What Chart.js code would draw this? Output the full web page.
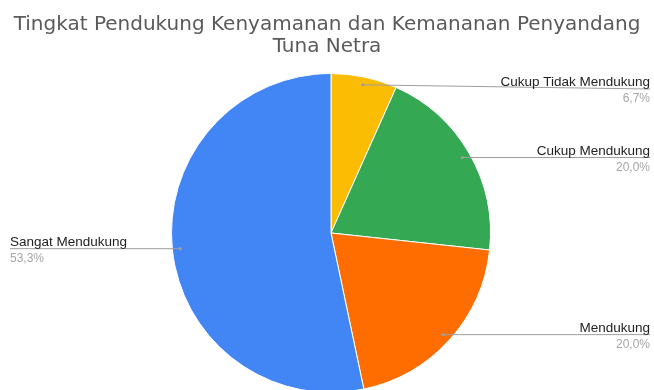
<!DOCTYPE html>
<html>
<head>
<meta charset="utf-8">
<script src="https://cdn.jsdelivr.net/npm/chart.js@4.4.0/dist/chart.umd.min.js"></script>
<style>
  html, body { margin: 0; padding: 0; background: #fff; }
  #wrap { width: 654px; height: 390px; overflow: hidden; position: relative; }
</style>
</head>
<body>
<div id="wrap"><canvas id="pieChart" width="654" height="396"></canvas></div>
<script>
// Respondent answers, shares in percent
const categories = ['Cukup Tidak Mendukung', 'Cukup Mendukung', 'Mendukung', 'Sangat Mendukung'];
const shares = [6.7, 20.0, 20.0, 53.3];
const sliceColors = ['#FBBC04', '#34A853', '#FF6D01', '#4285F4'];
const titleLines = ['Tingkat Pendukung Kenyamanan dan Kemananan Penyandang', 'Tuna Netra'];

const fmtPct = v => v.toFixed(1).replace('.', ',') + '%';

// title drawn by hand so it doesn't push the pie around
const titlePlugin = {
  id: 'titleText',
  afterDraw(chart) {
    const ctx = chart.ctx;
    ctx.save();
    ctx.fillStyle = '#5a5a5a';
    ctx.font = '20px "DejaVu Sans"';
    ctx.textAlign = 'center';
    ctx.textBaseline = 'alphabetic';
    ctx.fillText(titleLines[0], 327, 30);
    ctx.fillText(titleLines[1], 327, 52);
    ctx.restore();
  }
};

// outside labels with leader lines
const leaderLabels = {
  id: 'leaderLabels',
  afterDatasetsDraw(chart) {
    const ctx = chart.ctx;
    const meta = chart.getDatasetMeta(0);
    ctx.save();
    meta.data.forEach((arc, i) => {
      const mid = (arc.startAngle + arc.endAngle) / 2;
      const r = arc.outerRadius * 0.95;
      const px = arc.x + Math.cos(mid) * r;
      const py = arc.y + Math.sin(mid) * r;
      const right = Math.cos(mid) >= 0;
      const endX = right ? 650 : 10;
      const lineY = Math.max(py, 89);

      ctx.strokeStyle = '#9e9e9e';
      ctx.lineWidth = 1;
      ctx.beginPath();
      ctx.moveTo(px, py);
      ctx.lineTo(endX, lineY);
      ctx.stroke();
      ctx.fillStyle = '#9e9e9e';
      ctx.beginPath();
      ctx.arc(px, py, 1.6, 0, Math.PI * 2);
      ctx.fill();

      ctx.textAlign = right ? 'right' : 'left';
      ctx.textBaseline = 'alphabetic';
      ctx.font = '13.5px "Liberation Sans"';
      ctx.fillStyle = '#222';
      ctx.fillText(categories[i], endX, lineY - 3);
      ctx.font = '12px "Liberation Sans"';
      ctx.fillStyle = '#a6a6a6';
      ctx.fillText(fmtPct(shares[i]), endX, lineY + 13);
    });
    ctx.restore();
  }
};

new Chart(document.getElementById('pieChart'), {
  type: 'pie',
  data: {
    labels: categories,
    datasets: [{
      data: shares,
      backgroundColor: sliceColors,
      borderColor: '#ffffff',
      borderWidth: 1
    }]
  },
  options: {
    responsive: false,
    animation: false,
    layout: { padding: { top: 73, bottom: 3, left: 171, right: 163 } },
    plugins: {
      legend: { display: false },
      title: { display: false },
      tooltip: { enabled: false }
    }
  },
  plugins: [titlePlugin, leaderLabels]
});
</script>
</body>
</html>
